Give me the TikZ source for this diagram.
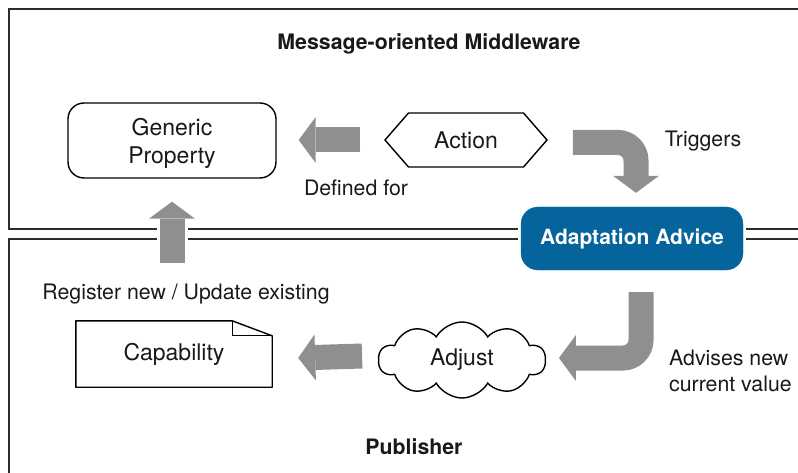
\documentclass[tikz,border=0pt]{standalone}
\usepackage{fontspec}
\setmainfont{TeX Gyre Heros}
\usetikzlibrary{shapes.symbols,shapes.misc,arrows.meta}
\definecolor{advblue}{RGB}{5,100,156}
\definecolor{arrowgray}{RGB}{143,143,143}
\definecolor{framegray}{RGB}{45,45,45}
\definecolor{txt}{RGB}{25,25,25}
\begin{document}
\begin{tikzpicture}[x=1pt,y=-1pt,
  nodefont/.style={font=\fontsize{23}{28}\selectfont, text=txt},
  labelfont/.style={font=\fontsize{21.3}{26}\selectfont, text=txt},
  titlefont/.style={font=\fontsize{21.3}{26}\selectfont\bfseries, text=txt},
  frameline/.style={draw=framegray, line width=1.3pt},
  shapeline/.style={draw=black, line width=1.4pt},
  blockarrow/.style={draw=arrowgray, line width=25pt,
     -{Triangle[width=46pt,length=17pt,line width=0pt]}}
]
\useasboundingbox (0,0) rectangle (798,473);

% frames
\draw[frameline] (157,229) -- (9,229) -- (9,9) -- (800,9);
\draw[frameline] (188,229) -- (518,229);
\draw[frameline] (746,229) -- (800,229);
\draw[frameline] (157,239) -- (9,239) -- (9,475);
\draw[frameline] (188,239) -- (518,239);
\draw[frameline] (746,239) -- (800,239);

% titles
\node[titlefont] (ttop) at (429,44) {Message-oriented Middleware};
\node[titlefont] (tbot) at (414,447) {Publisher};

% nodes
\node[shapeline, rounded corners=16, minimum width=208, minimum height=75,
      inner sep=0] (gp) at (172,140.5) {};
\node[nodefont, align=center, inner sep=0] (gptext) at (172,143.5) {Generic\\Property};
\node[shapeline, nodefont, signal, signal to=east and west, signal pointer angle=98,
      minimum width=162, minimum height=54, inner sep=0] (act) at (466,140) {Action};
\node[fill=advblue, draw=advblue, rounded corners=17, minimum width=222, minimum height=63,
      text=white, font=\fontsize{21}{26}\selectfont\bfseries] (adv) at (632,238.5) {Adaptation Advice};
\node[nodefont, minimum width=196, minimum height=66, inner sep=0] (cap) at (174,354) {Capability};
\draw[shapeline, line join=round] (cap.north west) -- ([xshift=-40pt]cap.north east) coordinate (f1)
   -- ([yshift=-15pt]cap.north east) coordinate (f2) -- (cap.south east) -- (cap.south west) -- cycle;
\draw[shapeline, line width=1pt] (f1) |- (f2);
\node[shapeline, nodefont, cloud, cloud puffs=10, cloud puff arc=120, aspect=2.3,
      minimum width=167, minimum height=76, inner sep=0] (adj) at (462,360) {Adjust};

% labels
\node[labelfont] (ldef) at (356,188) {Defined for};
\node[labelfont] (ltrig) at (703,141) {Triggers};
\node[labelfont] (lreg) at (186,294) {Register new / Update existing};
\node[labelfont, align=left, anchor=west, inner sep=0] (ladv) at (669,371) {Advises new\\current value};

% block arrows
\draw[blockarrow, shorten <=24pt, shorten >=22pt] (act.west) -- (act.west -| gp.east);
\draw[blockarrow] ([yshift=58pt]gp.south |- cap.north) -- ([yshift=-23pt]gp.south);
\draw[blockarrow, rounded corners=18] ([xshift=25pt,yshift=-2.5pt]act.east) -| ([xshift=4pt,yshift=14pt]adv.north);
\draw[blockarrow, rounded corners=18] ([xshift=9pt,yshift=-22pt]adv.south) |- ([xshift=13pt,yshift=2pt]adj.east);
\draw[blockarrow] ([xshift=-16pt,yshift=4pt]adj.west) -- ([xshift=26pt,yshift=-4pt]cap.east);
\end{tikzpicture}
\end{document}
